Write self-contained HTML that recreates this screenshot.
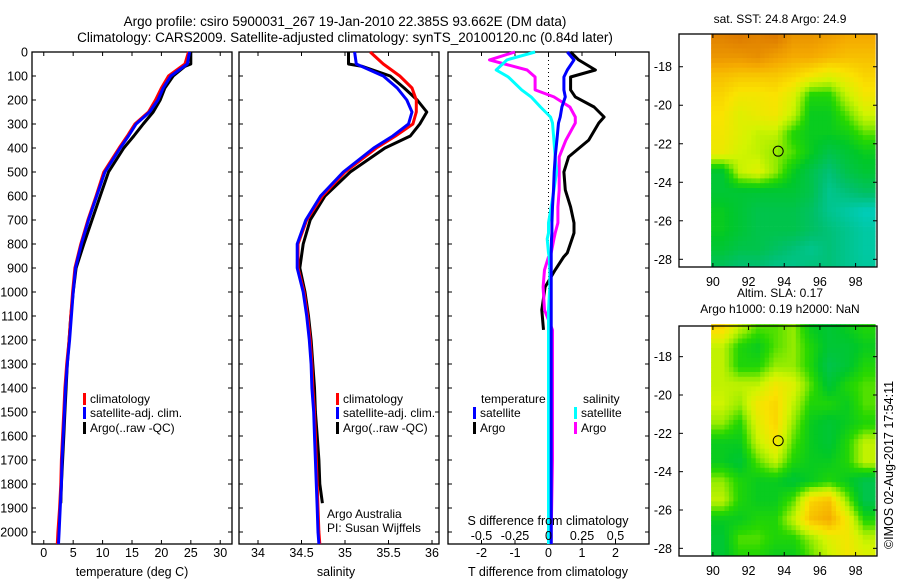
<!DOCTYPE html>
<html><head><meta charset="utf-8"><style>
body{margin:0;background:#fff;}
svg{display:block;font-family:"Liberation Sans",sans-serif;}
</style></head><body>
<svg id="c" width="900" height="580" viewBox="0 0 900 580" xmlns="http://www.w3.org/2000/svg">
<rect width="900" height="580" fill="#fff"/>
<text x="345" y="26" font-size="13.5" text-anchor="middle">Argo profile: csiro 5900031_267 19-Jan-2010 22.385S 93.662E (DM data)</text>
<text x="345" y="42" font-size="13.5" text-anchor="middle">Climatology: CARS2009. Satellite-adjusted climatology: synTS_20100120.nc (0.84d later)</text>
<g id="g"></g>
</svg>
<script>
// ---- data ----
const depths = [0,50,100,150,200,250,300,350,400,500,600,700,800,900,1000,1100,1200,1300,1400,1500,1600,1700,1800,1900,2000,2050];
const tempClim = [24.6,24.0,21.2,20.0,19.0,17.8,15.5,14.2,12.8,10.2,8.9,7.5,6.3,5.3,4.9,4.6,4.3,3.9,3.6,3.4,3.2,3.0,2.9,2.7,2.4,2.3];
const tempSat  = [24.8,24.4,21.6,20.3,19.4,18.0,15.7,14.4,13.0,10.4,9.0,7.6,6.4,5.4,5.0,4.7,4.4,4.0,3.7,3.5,3.3,3.1,3.0,2.8,2.6,2.5];
const argoDepths = [0,50,60,100,150,200,250,300,350,400,500,600,700,800,900,1000,1100,1200,1300,1400,1500,1600,1700,1800,1880];
const tempArgo = [25.0,25.0,24.0,22.0,20.6,19.8,18.6,16.9,15.3,13.6,11.0,9.6,8.2,6.8,5.5,5.0,4.6,4.3,4.0,3.8,3.6,3.4,3.2,3.0,2.9];
const salClim = [35.29,35.44,35.63,35.77,35.82,35.82,35.78,35.58,35.36,35.0,34.74,34.56,34.46,34.46,34.53,34.57,34.6,34.62,34.63,34.65,34.66,34.67,34.68,34.69,34.7,34.71];
const salSat  = [35.11,35.13,35.44,35.6,35.71,35.77,35.73,35.55,35.33,34.98,34.72,34.55,34.45,34.45,34.52,34.56,34.59,34.61,34.62,34.64,34.65,34.66,34.67,34.68,34.69,34.7];
const salArgo = [35.04,35.04,35.2,35.52,35.68,35.83,35.94,35.86,35.75,35.46,35.06,34.77,34.6,34.52,34.48,34.54,34.58,34.61,34.63,34.65,34.66,34.68,34.7,34.71,34.74];
const dDepths = [0,33,75,104,158,187,229,271,296,367,437,500,575,646,712,754,779,837,854,908,979,1075,1158,1400,1700,2000,2050];
const dTSat  = [0.56,0.76,0.56,0.46,0.46,0.5,0.4,0.35,0.3,0.25,0.2,0.17,0.15,0.12,0.1,0.1,0.09,0.08,0.08,0.08,0.08,0.08,0.08,0.08,0.08,0.08,0.08];
const dTArgo = [0.66,0.9,1.4,0.66,0.66,0.8,1.36,1.66,1.5,1.2,0.6,0.46,0.5,0.66,0.76,0.76,0.7,0.56,0.45,0.2,-0.1,-0.2,-0.15,null,null,null,null];
const dSSat  = [-0.1,-0.31,-0.39,-0.3,-0.2,-0.13,-0.06,0.015,0.03,0.04,0.05,0.06,0.04,0.02,0.0,0.0,-0.01,0.0,0.005,0.01,0.01,0.0,0.0,0.0,0.0,0.0,0.0];
const dSArgo = [-0.25,-0.44,-0.16,-0.1,-0.1,0.04,0.16,0.2,0.2,0.13,0.08,0.08,0.08,0.07,0.07,0.05,0.04,0.02,0.0,-0.03,-0.04,-0.03,0.03,0.03,0.03,0.02,0.02];
const yTicks = [0,100,200,300,400,500,600,700,800,900,1000,1100,1200,1300,1400,1500,1600,1700,1800,1900,2000];
const tTicks = [0,5,10,15,20,25,30];
const sTicks = [34,34.5,35,35.5,36];
const sTickLabels = ["34","34.5","35","35.5","36"];
const dTTicks = [-2,-1,0,1,2];
const dSTicks = [-0.5,-0.25,0,0.25,0.5];
const dSTickLabels = ["-0.5","-0.25","0","0.25","0.5"];
const mapLonTicks = [90,92,94,96,98];
const mapLatTicks = [-18,-20,-22,-24,-26,-28];
const sstGrid = [
[0.95,0.97,0.95,0.97,0.9,0.9,0.88,0.85,0.85],
[0.9,0.9,0.92,0.88,0.85,0.85,0.82,0.8,0.8],
[0.8,0.78,0.78,0.78,0.75,0.7,0.65,0.7,0.75],
[0.75,0.7,0.7,0.72,0.65,0.45,0.45,0.6,0.7],
[0.72,0.65,0.68,0.7,0.6,0.4,0.4,0.5,0.62],
[0.7,0.65,0.6,0.6,0.45,0.4,0.4,0.42,0.5],
[0.68,0.62,0.6,0.55,0.5,0.4,0.3,0.35,0.4],
[0.35,0.6,0.65,0.55,0.4,0.3,0.2,0.3,0.35],
[0.35,0.35,0.35,0.35,0.35,0.3,0.15,0.2,0.25],
[0.4,0.35,0.3,0.3,0.3,0.25,0.15,0.1,0.05],
[0.4,0.35,0.3,0.3,0.3,0.25,0.2,0.15,0.1],
[0.35,0.3,0.3,0.25,0.2,0.15,0.2,0.15,0.1],
[0.25,0.2,0.2,0.15,0.15,0.2,0.2,0.15,0.12]];
const slaGrid = [
[0.75,0.6,0.5,0.5,0.55,0.4,0.35,0.4,0.45],
[0.6,0.45,0.4,0.5,0.55,0.45,0.35,0.35,0.4],
[0.6,0.45,0.45,0.55,0.55,0.45,0.3,0.35,0.45],
[0.6,0.6,0.6,0.7,0.65,0.5,0.35,0.45,0.5],
[0.62,0.55,0.7,0.75,0.6,0.45,0.45,0.4,0.5],
[0.55,0.45,0.65,0.75,0.55,0.4,0.35,0.4,0.45],
[0.4,0.4,0.6,0.7,0.5,0.4,0.35,0.45,0.6],
[0.4,0.35,0.5,0.6,0.45,0.4,0.4,0.45,0.6],
[0.55,0.45,0.4,0.4,0.35,0.4,0.45,0.4,0.3],
[0.6,0.45,0.4,0.4,0.5,0.75,0.8,0.55,0.3],
[0.4,0.4,0.45,0.45,0.6,0.8,0.85,0.7,0.45],
[0.35,0.5,0.5,0.45,0.45,0.55,0.65,0.7,0.6],
[0.35,0.45,0.45,0.4,0.4,0.5,0.6,0.7,0.65]];
const floatLon = 93.66, floatLat = -22.385;

const NS='http://www.w3.org/2000/svg';
const G=document.getElementById('g');
function el(tag,attrs,parent){const e=document.createElementNS(NS,tag);for(const k in attrs)e.setAttribute(k,attrs[k]);(parent||G).appendChild(e);return e;}
function txt(x,y,s,anchor,size,parent){const t=el('text',{x:x,y:y,'font-size':size||12,'text-anchor':anchor||'start'},parent);t.textContent=s;return t;}

const yTop=52,yBot=544,pMax=2050;
const yS=p=>yTop+(p/pMax)*(yBot-yTop);
function lin(d0,d1,r0,r1){return v=>r0+(v-d0)/(d1-d0)*(r1-r0);}

function panel(name,x0,x1,xs,ticks,labels,showY){
  const g=el('g',{});
  
  
  const fr=el('rect',{x:x0,y:yTop,width:x1-x0,height:yBot-yTop,fill:'none',stroke:'#000','stroke-width':1.3},g);
  
  
  ticks.forEach((t,i)=>{const x=xs(t);
    el('line',{x1:x,x2:x,y1:yBot,y2:yBot-4,stroke:'#000'},g);
    el('line',{x1:x,x2:x,y1:yTop,y2:yTop+4,stroke:'#000'},g);
    if(labels){const l=txt(x,557,labels[i],'middle',12.5,g);
      
      }
  });
  yTicks.forEach(p=>{const y=yS(p);
    el('line',{x1:x0,x2:x0+4,y1:y,y2:y,stroke:'#000'},g);
    el('line',{x1:x1,x2:x1-4,y1:y,y2:y,stroke:'#000'},g);
    if(showY){const l=txt(28,y+4.5,String(p),'end',12.5,g);
      
      }
  });
  return g;
}
function line(g,xs,ds,vs,color,name){
  let d='';let pen=false;
  vs.forEach((v,i)=>{if(v===null){pen=false;return;}
    d+=(pen?'L':'M')+xs(v).toFixed(1)+','+yS(ds[i]).toFixed(1);pen=true;});
  const p=el('path',{d:d,fill:'none',stroke:color,'stroke-width':3,'stroke-linejoin':'round'},g);
  
  
}
function legend(g,x,y,color,label,name){
  el('rect',{x:x,y:y-10,width:3,height:12,fill:color},g);
  const t=txt(x+7,y,label,'start',12,g);
  
  
}

const xT=lin(-2,32,32,232);
const p1=panel('temperature-panel',32,232,xT,tTicks,tTicks.map(String),true);
line(p1,xT,argoDepths,tempArgo,'#000','temp-argo-line');
line(p1,xT,depths,tempClim,'#f00','temp-clim-line');
line(p1,xT,depths,tempSat,'#00f','temp-sat-line');
legend(p1,83,403,'#f00','climatology','legend-climatology');
legend(p1,83,417,'#00f','satellite-adj. clim.','legend-satellite-adj');
legend(p1,83,432,'#000','Argo(..raw -QC)','legend-argo');
let t=txt(132,576,'temperature (deg C)','middle',12.5,p1);



const xS=lin(34,36,258,432);
const p2=panel('salinity-panel',239,439,xS,sTicks,sTickLabels,false);
line(p2,xS,argoDepths,salArgo,'#000','sal-argo-line');
line(p2,xS,depths,salClim,'#f00','sal-clim-line');
line(p2,xS,depths,salSat,'#00f','sal-sat-line');
legend(p2,336,403,'#f00','climatology','legend-climatology');
legend(p2,336,417,'#00f','satellite-adj. clim.','legend-satellite-adj');
legend(p2,336,432,'#000','Argo(..raw -QC)','legend-argo');
t=txt(327,518,'Argo Australia','start',12,p2);


t=txt(327,532,'PI: Susan Wijffels','start',12,p2);


t=txt(336,576,'salinity','middle',12.5,p2);



const xDT=lin(-3,3,448,649);
const xDS=lin(-0.75,0.75,448,649);
const p3=panel('difference-panel',448,649,xDT,dTTicks,dTTicks.map(String),false);
el('line',{x1:xDT(0),x2:xDT(0),y1:yTop,y2:yBot,stroke:'#000','stroke-dasharray':'1,3'},p3);
line(p3,xDT,dDepths,dTArgo,'#000','dt-argo-line');
line(p3,xDS,dDepths,dSArgo,'#f0f','ds-argo-line');
line(p3,xDS,dDepths,dSSat,'#0ff','ds-sat-line');
line(p3,xDT,dDepths,dTSat,'#00f','dt-sat-line');
legend(p3,473,417,'#00f','satellite','legend-t-satellite');
legend(p3,473,432,'#000','Argo','legend-t-argo');
legend(p3,574,417,'#0ff','satellite','legend-s-satellite');
legend(p3,574,432,'#f0f','Argo','legend-s-argo');
t=txt(481,403,'temperature','start',12,p3);


t=txt(583,403,'salinity','start',12,p3);


t=txt(548,525,'S difference from climatology','middle',12.5,p3);


dSTicks.forEach((v,i)=>{const l=txt(xDS(v),540,dSTickLabels[i],'middle',12.5,p3);
  
  });
t=txt(548,576,'T difference from climatology','middle',12.5,p3);



const stops=[[0,[0,208,208]],[0.22,[0,192,110]],[0.38,[0,200,40]],[0.47,[40,216,0]],[0.55,[150,236,0]],[0.62,[210,244,0]],[0.72,[250,226,0]],[0.85,[245,170,0]],[1,[216,112,0]]];
function cmap(v){v=Math.max(0,Math.min(1,v));for(let i=1;i<stops.length;i++){if(v<=stops[i][0]){const a=stops[i-1],b=stops[i],f=(v-a[0])/(b[0]-a[0]);
  return 'rgb('+a[1].map((c,k)=>Math.round(c+(b[1][k]-c)*f)).join(',')+')';}}return 'rgb(216,112,0)';}
function mapPanel(name,grid,top,bot,latTop,latBot,title1,title2){
  const g=el('g',{});
  
  
  const L=679,R=877,lonL=88.1,lonR=99.2;
  const xm=lin(lonL,lonR,L,R), ym=lin(latTop,latBot,top,bot);
  const lon0=89.9,lon1=99.1,lat0=-16.3,lat1=-28.4;
  const step=0.25;
  const rows=grid.length, cols=grid[0].length;
  for(let la=lat0;la>lat1-1e-6;la-=step){
    for(let lo=lon0;lo<lon1-1e-6;lo+=step){
      const fx=Math.max(0,Math.min(cols-1,(lo+step/2-90.5)));
      const fy=Math.max(0,Math.min(rows-1,(-(la-step/2)-16.5)));
      const ix=Math.min(cols-2,Math.floor(fx)),iy=Math.min(rows-2,Math.floor(fy));
      const ax=fx-ix,ay=fy-iy;
      const v=grid[iy][ix]*(1-ax)*(1-ay)+grid[iy][ix+1]*ax*(1-ay)+grid[iy+1][ix]*(1-ax)*ay+grid[iy+1][ix+1]*ax*ay;
      const x=xm(lo),y=ym(la),x2=xm(Math.min(lon1,lo+step)),y2=ym(Math.max(lat1,la-step));
      el('rect',{x:x.toFixed(1),y:y.toFixed(1),width:(x2-x+0.4).toFixed(1),height:(y2-y+0.4).toFixed(1),fill:cmap(v)},g);
    }
  }
  const fr=el('rect',{x:L,y:top,width:R-L,height:bot-top,fill:'none',stroke:'#000','stroke-width':1.3},g);
  
  
  mapLonTicks.forEach(v=>{const x=xm(v);el('line',{x1:x,x2:x,y1:bot,y2:bot-4,stroke:'#000'},g);el('line',{x1:x,x2:x,y1:top,y2:top+4,stroke:'#000'},g);
    const l=txt(x,bot+19,String(v),'middle',12.5,g);
    
    });
  mapLatTicks.forEach(v=>{const y=ym(v);el('line',{x1:L,x2:L+4,y1:y,y2:y,stroke:'#000'},g);el('line',{x1:R,x2:R-4,y1:y,y2:y,stroke:'#000'},g);
    const l=txt(L-7,y+4.5,String(v),'end',12.5,g);
    
    });
  const c=el('circle',{cx:xm(floatLon),cy:ym(floatLat),r:5,fill:'none',stroke:'#000','stroke-width':1},g);
  
  
  let a=txt(780,title2?top-29:top-11,title1,'middle',12,g);
  
  
  if(title2){a=txt(780,top-13,title2,'middle',12,g);
    
    }
}
mapPanel('sst-map',sstGrid,34,267,-16.3,-28.4,'sat. SST: 24.8 Argo: 24.9',null);
mapPanel('sla-map',slaGrid,326,556,-16.4,-28.4,'Altim. SLA: 0.17','Argo h1000: 0.19 h2000: NaN');
t=txt(0,0,'©IMOS 02-Aug-2017 17:54:11','middle',12.5);
t.setAttribute('transform','translate(893,465) rotate(-90)');


</script>
</body></html>
